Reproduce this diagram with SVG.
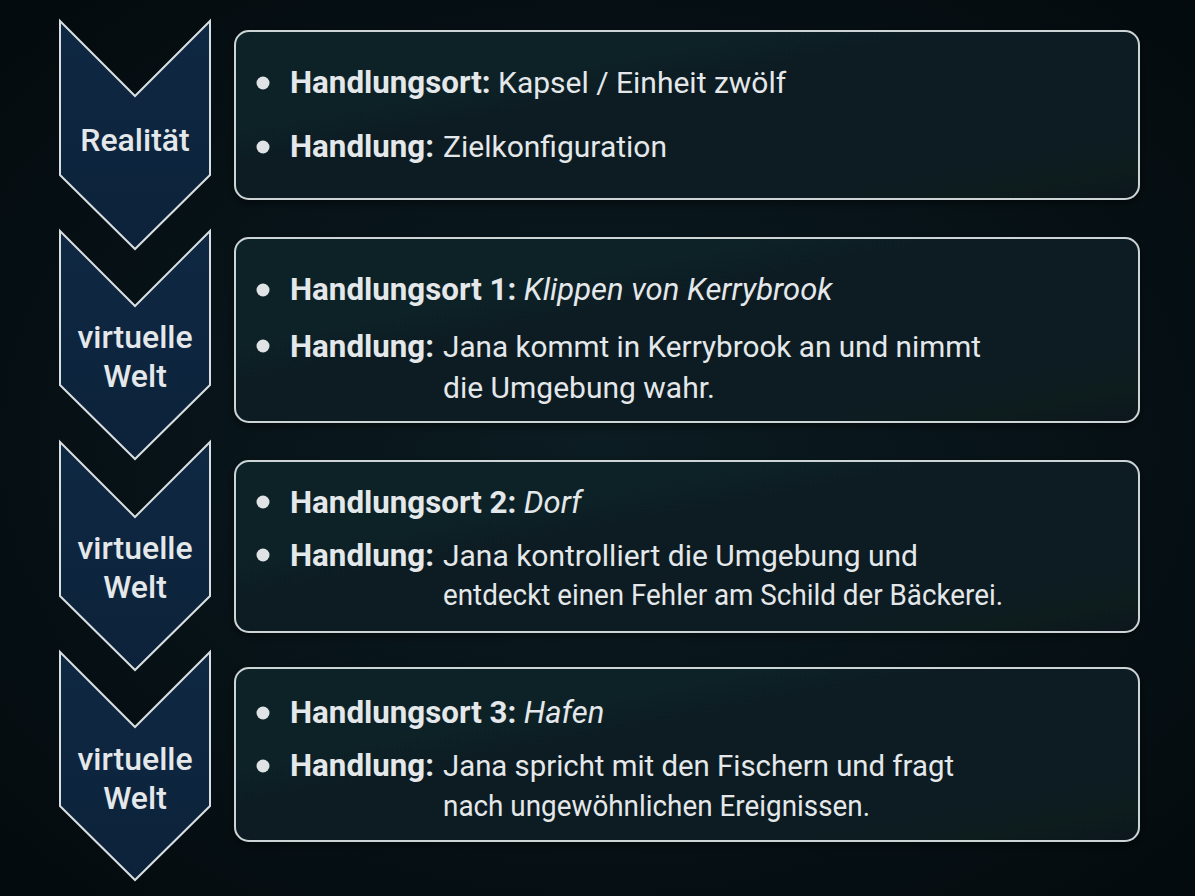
<svg xmlns="http://www.w3.org/2000/svg" width="1195" height="896" viewBox="0 0 1195 896">
  <defs>
    <radialGradient id="bg" cx="0.5" cy="0.5" r="0.75">
      <stop offset="0" stop-color="#0b1c22"/>
      <stop offset="1" stop-color="#03090c"/>
    </radialGradient>
    <linearGradient id="boxFill" x1="0" y1="0" x2="1" y2="1">
      <stop offset="0" stop-color="#0c2328"/>
      <stop offset="1" stop-color="#08191e"/>
    </linearGradient>
    <linearGradient id="chevFill" x1="0" y1="0" x2="0" y2="1">
      <stop offset="0" stop-color="#0f2843"/>
      <stop offset="1" stop-color="#0c223a"/>
    </linearGradient>
    <filter id="shadow" x="-10%" y="-10%" width="120%" height="130%">
      <feDropShadow dx="0" dy="3" stdDeviation="4" flood-color="#000" flood-opacity="0.5"/>
    </filter>
  </defs>
  <style>
    .chev { fill: url(#chevFill); stroke: #d9dee0; stroke-width: 2; stroke-linejoin: miter; }
    .box { fill: url(#boxFill); stroke: #cdd4d6; stroke-width: 2; filter: url(#shadow); }
    .clabel { font-family: Roboto, "Liberation Sans", sans-serif; font-size: 32px; font-weight: 500; fill: #e4e8ea; text-anchor: middle; }
    .t { font-family: Roboto, "Liberation Sans", sans-serif; font-size: 30px; fill: #e4e8ea; }
    .b { font-weight: 700; font-size: 31.3px; }
    .i { font-style: italic; font-size: 31px; }
    .dot { fill: #dfe3e5; }
  </style>
  <rect x="0" y="0" width="1195" height="896" fill="url(#bg)"/>

  <g id="connectors"></g>

  <g id="chevron-1">
    <path class="chev" d="M60,21 L135,96 L210,21 L210,175 L135,249 L60,175 Z"/>
    <text class="clabel" x="135" y="151">Realität</text>
  </g>
  <g id="chevron-2">
    <path class="chev" d="M60,231 L135,306 L210,231 L210,385 L135,459 L60,385 Z"/>
    <text class="clabel" x="135" y="348">virtuelle</text>
    <text class="clabel" x="135" y="387">Welt</text>
  </g>
  <g id="chevron-3">
    <path class="chev" d="M60,442 L135,517 L210,442 L210,596 L135,670 L60,596 Z"/>
    <text class="clabel" x="135" y="559">virtuelle</text>
    <text class="clabel" x="135" y="598">Welt</text>
  </g>
  <g id="chevron-4">
    <path class="chev" d="M60,652 L135,727 L210,652 L210,806 L135,880 L60,806 Z"/>
    <text class="clabel" x="135" y="770">virtuelle</text>
    <text class="clabel" x="135" y="809">Welt</text>
  </g>

  <g id="box-1">
    <rect class="box" x="235" y="31" width="904" height="168" rx="14"/>
    <circle class="dot" cx="263" cy="83" r="6.5"/>
    <text class="t" x="290" y="93"><tspan class="b">Handlungsort:</tspan> Kapsel / Einheit zwölf</text>
    <circle class="dot" cx="263" cy="147" r="6.5"/>
    <text class="t" x="290" y="157"><tspan class="b">Handlung:</tspan></text>
    <text class="t" x="443" y="157">Zielkonfiguration</text>
  </g>

  <g id="box-2">
    <rect class="box" x="235" y="238" width="904" height="184" rx="14"/>
    <circle class="dot" cx="263" cy="290" r="6.5"/>
    <text class="t" x="290" y="300"><tspan class="b">Handlungsort 1:</tspan> <tspan class="i">Klippen von Kerrybrook</tspan></text>
    <circle class="dot" cx="263" cy="346" r="6.5"/>
    <text class="t" x="290" y="357"><tspan class="b">Handlung:</tspan></text>
    <text class="t" x="443" y="357" textLength="538" lengthAdjust="spacingAndGlyphs">Jana kommt in Kerrybrook an und nimmt</text>
    <text class="t" x="443" y="398">die Umgebung wahr.</text>
  </g>

  <g id="box-3">
    <rect class="box" x="235" y="461" width="904" height="171" rx="14"/>
    <circle class="dot" cx="263" cy="502" r="6.5"/>
    <text class="t" x="290" y="513"><tspan class="b">Handlungsort 2:</tspan> <tspan class="i">Dorf</tspan></text>
    <circle class="dot" cx="263" cy="555" r="6.5"/>
    <text class="t" x="290" y="566"><tspan class="b">Handlung:</tspan></text>
    <text class="t" x="443" y="566" textLength="475" lengthAdjust="spacingAndGlyphs">Jana kontrolliert die Umgebung und</text>
    <text class="t" x="443" y="605" textLength="560" lengthAdjust="spacingAndGlyphs">entdeckt einen Fehler am Schild der Bäckerei.</text>
  </g>

  <g id="box-4">
    <rect class="box" x="235" y="668" width="904" height="173" rx="14"/>
    <circle class="dot" cx="263" cy="713" r="6.5"/>
    <text class="t" x="290" y="723"><tspan class="b">Handlungsort 3:</tspan> <tspan class="i">Hafen</tspan></text>
    <circle class="dot" cx="263" cy="766" r="6.5"/>
    <text class="t" x="290" y="776"><tspan class="b">Handlung:</tspan></text>
    <text class="t" x="443" y="776" textLength="511" lengthAdjust="spacingAndGlyphs">Jana spricht mit den Fischern und fragt</text>
    <text class="t" x="443" y="816" textLength="427" lengthAdjust="spacingAndGlyphs">nach ungewöhnlichen Ereignissen.</text>
  </g>
</svg>
